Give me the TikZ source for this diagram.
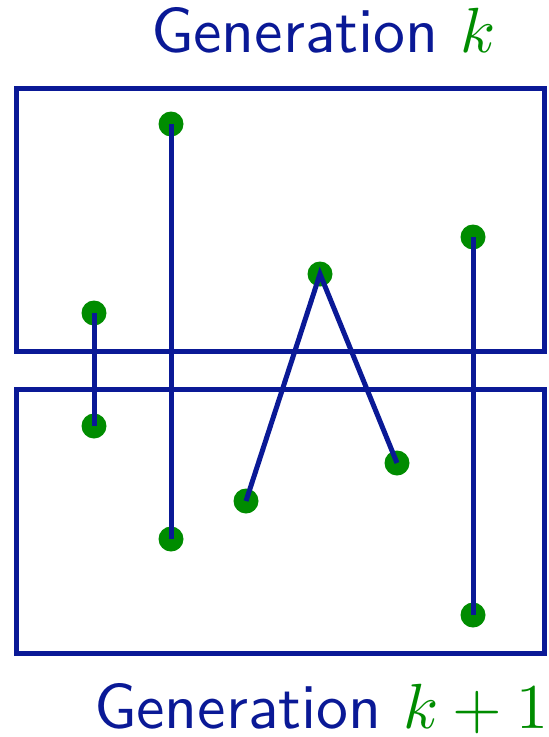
\documentclass[tikz,border=0pt]{standalone}
\definecolor{navy}{RGB}{10,25,150}
\definecolor{dotgreen}{RGB}{0,140,0}
\tikzset{
  genbox/.style={draw=navy, line width=5pt, inner sep=0pt, outer sep=0pt, anchor=north west},
  dot/.style={circle, fill=dotgreen, minimum size=25pt, inner sep=0pt},
  link/.style={draw=navy, line width=5pt, line join=miter},
  title/.style={anchor=base west, inner sep=0pt, outer sep=0pt, text=navy}
}
\newcommand{\bigtitle}[1]{\scalebox{6.38}{\sffamily #1}}
\begin{document}
\begin{tikzpicture}[x=1pt,y=-1pt]
\useasboundingbox (0,0) rectangle (549,737);
\node[genbox, minimum width=527.5pt, minimum height=263.5pt] (gk) at (16.5,88) {};
\node[genbox, minimum width=527.5pt, minimum height=263.5pt] (gk1) at (16.5,389.5) {};
\node[dot] (a1) at (94,313) {};
\node[dot] (a2) at (94,426) {};
\node[dot] (b1) at (171,124) {};
\node[dot] (b2) at (171,539) {};
\node[dot] (c0) at (320,274) {};
\node[dot] (c1) at (246,501) {};
\node[dot] (c2) at (397,463) {};
\node[dot] (d1) at (473,237) {};
\node[dot] (d2) at (473,615) {};
\path[link] (a1.center) -- (a2.center);
\path[link] (b1.center) -- (b2.center);
\path[link] (c1.center) -- (c0.center) -- (c2.center);
\path[link] (d1.center) -- (d2.center);
\node[title] (t1) at (151,52) {\bigtitle{Generation \textcolor{dotgreen}{$k$}}};
\node[title] (t2) at (94,728) {\bigtitle{Generation \textcolor{dotgreen}{$k+1$}}};
\end{tikzpicture}
\end{document}
